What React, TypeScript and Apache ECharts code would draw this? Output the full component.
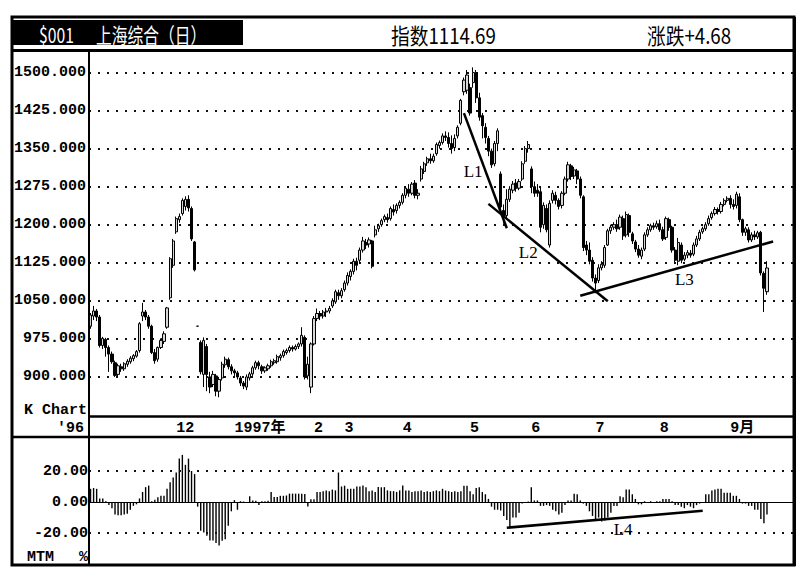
import React, { useEffect, useRef } from 'react';
import * as echarts from 'echarts';

// ---------- data ----------
const slotCount = 230;
const days = Array.from({ length: slotCount }, (_, i) => String(i));

const monthTickIdx = [28, 47, 73, 83, 102, 124, 144, 165, 186, 209];
const monthTickText = ['12', '1997年', '2', '3', '4', '5', '6', '7', '8', '9月'];

const priceTicks = [900, 975, 1050, 1125, 1200, 1275, 1350, 1425, 1500];
const mtmTicks = [-20, 0, 20];

// [open, close, low, high]
const ohlc = [
  [1000, 1022, 995, 1026], [1020, 1030, 1012, 1040], [1030, 1018, 1010, 1034], [1018, 962, 958, 1022], [962, 976, 955, 979],
  [974, 958, 940, 977], [958, 945, 910, 962], [945, 930, 926, 950], [928, 903, 900, 932], [905, 922, 900, 926],
  [920, 916, 910, 926], [916, 926, 912, 929], [925, 931, 920, 935], [930, 937, 926, 941], [936, 942, 931, 945],
  [941, 950, 938, 953], [952, 1005, 948, 1008], [1020, 1028, 1010, 1046], [1028, 1018, 1012, 1032], [1018, 1000, 995, 1022],
  [1000, 948, 945, 1003], [948, 932, 926, 955], [935, 958, 930, 960], [958, 972, 955, 976], [970, 985, 965, 990],
  [998, 1036, 995, 1038], [1056, 1133, 1052, 1136], [1120, 1168, 1115, 1172], [1186, 1212, 1182, 1216], [1210, 1216, 1204, 1222],
  [1222, 1248, 1218, 1252], [1236, 1250, 1228, 1256], [1250, 1233, 1226, 1258], [1232, 1172, 1168, 1236], [1166, 1111, 1108, 1168],
  [1000, 1000, 1000, 1000], [968, 910, 905, 972], [905, 972, 880, 978], [960, 905, 872, 965], [900, 880, 868, 910],
  [885, 905, 880, 912], [902, 872, 862, 906], [872, 895, 860, 900], [898, 925, 893, 930], [924, 935, 918, 940],
  [934, 920, 915, 938], [920, 912, 905, 925], [912, 908, 902, 916], [908, 900, 895, 912], [898, 888, 882, 902],
  [888, 882, 876, 892], [880, 900, 874, 905], [898, 906, 893, 910], [906, 918, 902, 922], [918, 928, 914, 932],
  [928, 922, 915, 932], [920, 912, 906, 924], [912, 918, 908, 921], [916, 922, 912, 926], [922, 930, 918, 934],
  [928, 932, 924, 936], [930, 940, 926, 944], [938, 942, 932, 946], [942, 950, 938, 954], [948, 952, 944, 956],
  [952, 958, 948, 962], [958, 955, 950, 962], [955, 960, 952, 964], [960, 965, 955, 968], [965, 982, 960, 998],
  [978, 900, 895, 982], [902, 925, 895, 940], [880, 965, 868, 968], [965, 1015, 962, 1020], [1015, 1025, 1010, 1035],
  [1025, 1020, 1012, 1030], [1020, 1028, 1015, 1032], [1028, 1030, 1018, 1036], [1030, 1035, 1025, 1040], [1040, 1050, 1036, 1055],
  [1048, 1068, 1044, 1072], [1066, 1060, 1052, 1072], [1060, 1070, 1055, 1075], [1072, 1085, 1068, 1090], [1085, 1100, 1080, 1106],
  [1098, 1108, 1090, 1112], [1108, 1128, 1102, 1133], [1128, 1120, 1110, 1135], [1130, 1150, 1125, 1155], [1150, 1168, 1145, 1176],
  [1165, 1160, 1152, 1172], [1162, 1170, 1155, 1175], [1168, 1118, 1114, 1170], [1180, 1190, 1175, 1198], [1192, 1198, 1186, 1202],
  [1200, 1208, 1196, 1212], [1210, 1216, 1205, 1220], [1214, 1210, 1204, 1222], [1212, 1232, 1208, 1236], [1230, 1225, 1218, 1240],
  [1228, 1238, 1222, 1242], [1238, 1244, 1232, 1248], [1244, 1258, 1240, 1262], [1258, 1272, 1252, 1276], [1270, 1262, 1255, 1280],
  [1262, 1280, 1258, 1284], [1282, 1258, 1252, 1288], [1258, 1262, 1250, 1270], [1290, 1310, 1285, 1316], [1305, 1320, 1300, 1324],
  [1322, 1330, 1316, 1334], [1330, 1326, 1320, 1340], [1326, 1335, 1322, 1340], [1340, 1358, 1336, 1362], [1356, 1362, 1350, 1366],
  [1362, 1375, 1358, 1380], [1375, 1372, 1365, 1384], [1372, 1360, 1352, 1382], [1360, 1350, 1340, 1376], [1352, 1370, 1345, 1378],
  [1375, 1392, 1370, 1396], [1400, 1445, 1396, 1448], [1462, 1485, 1455, 1490], [1465, 1495, 1458, 1505], [1470, 1420, 1415, 1478],
  [1480, 1500, 1470, 1510], [1500, 1450, 1440, 1505], [1450, 1412, 1405, 1460], [1415, 1395, 1370, 1420], [1392, 1372, 1360, 1400],
  [1370, 1345, 1335, 1375], [1345, 1318, 1312, 1350], [1320, 1360, 1315, 1365], [1360, 1385, 1345, 1390], [1300, 1235, 1225, 1305],
  [1228, 1215, 1202, 1240], [1218, 1250, 1210, 1270], [1250, 1270, 1245, 1276], [1268, 1280, 1262, 1286], [1282, 1272, 1265, 1290],
  [1272, 1285, 1268, 1290], [1290, 1320, 1286, 1325], [1325, 1350, 1320, 1355], [1350, 1358, 1342, 1365], [1310, 1275, 1262, 1315],
  [1275, 1262, 1255, 1285], [1268, 1262, 1255, 1280], [1265, 1195, 1185, 1275], [1200, 1238, 1192, 1244], [1232, 1190, 1185, 1240],
  [1160, 1242, 1155, 1248], [1248, 1262, 1242, 1268], [1258, 1248, 1240, 1265], [1248, 1236, 1230, 1252], [1238, 1262, 1232, 1266],
  [1262, 1290, 1258, 1295], [1290, 1318, 1285, 1324], [1316, 1295, 1288, 1320], [1296, 1308, 1290, 1314], [1306, 1290, 1280, 1310],
  [1290, 1258, 1252, 1295], [1255, 1155, 1148, 1258], [1160, 1150, 1140, 1168], [1150, 1128, 1122, 1165], [1130, 1095, 1088, 1136],
  [1095, 1085, 1065, 1102], [1090, 1115, 1085, 1122], [1115, 1122, 1110, 1128], [1120, 1155, 1115, 1160], [1160, 1188, 1158, 1192],
  [1188, 1195, 1182, 1200], [1195, 1200, 1190, 1205], [1200, 1192, 1186, 1210], [1195, 1215, 1190, 1220], [1212, 1178, 1170, 1218],
  [1180, 1220, 1175, 1226], [1218, 1185, 1176, 1222], [1182, 1168, 1162, 1186], [1166, 1152, 1146, 1170], [1152, 1140, 1135, 1160],
  [1138, 1150, 1132, 1155], [1152, 1180, 1148, 1185], [1180, 1190, 1176, 1195], [1190, 1198, 1186, 1202], [1198, 1195, 1190, 1204],
  [1196, 1202, 1192, 1208], [1202, 1190, 1186, 1210], [1190, 1172, 1168, 1196], [1175, 1212, 1170, 1216], [1210, 1195, 1188, 1214],
  [1195, 1150, 1145, 1198], [1150, 1130, 1125, 1156], [1128, 1165, 1120, 1174], [1160, 1130, 1124, 1165], [1132, 1140, 1128, 1146],
  [1140, 1145, 1134, 1150], [1144, 1140, 1135, 1150], [1142, 1160, 1138, 1165], [1160, 1172, 1156, 1178], [1172, 1185, 1168, 1190],
  [1186, 1192, 1182, 1196], [1192, 1200, 1188, 1205], [1202, 1212, 1198, 1218], [1214, 1222, 1210, 1226], [1222, 1230, 1218, 1235],
  [1230, 1226, 1220, 1234], [1226, 1240, 1222, 1245], [1240, 1248, 1236, 1252], [1248, 1252, 1244, 1256], [1252, 1240, 1232, 1258],
  [1240, 1236, 1230, 1250], [1238, 1260, 1232, 1265], [1255, 1210, 1205, 1262], [1210, 1185, 1178, 1212], [1185, 1192, 1178, 1196],
  [1190, 1170, 1165, 1195], [1170, 1180, 1166, 1185], [1180, 1176, 1170, 1188], [1176, 1184, 1172, 1188], [1185, 1105, 1100, 1188],
  [1104, 1075, 1028, 1108], [1068, 1114.69, 1062, 1128],
];

const mtm = [
  8.5, 9, 8.5, 2.3, 2.3, 0.5, -1.9, -4, -8, -8.5,
  -8.5, -8, -7.5, -5, -2.5, -1.5, 2.3, 6.5, 9.6, 10.6,
  0.5, 1.5, 3, 4, 4, 8.5, 12.7, 15.8, 19, 28,
  30.4, 24, 28, 20, 18, -3, -18.5, -19.6, -21.7, -24.8,
  -24.8, -26.5, -28, -25, -24, -15.4, -6, 1.2, -5, 0.5,
  0.3, -0.3, 3.7, 1, 0.8, -1.9, 0.5, 0.5, 0.8, 6.5,
  3.3, 3.3, 4, 4, 4.2, 5.4, 5.4, 5.4, 5.4, 5.4,
  5.2, -2.9, 1.7, 1.7, 6.5, 6.5, 7, 7.5, 7, 8,
  7.5, 19, 10, 10.5, 8.5, 8.5, 8.5, 10, 10, 10.6,
  9.5, 7, 7.5, 6.5, 9.6, 9.5, 9.6, 7.5, 7, 7,
  6.5, 7.5, 10.6, 7.5, 7.5, 6.5, 7, 7, 7.5, 6.5,
  7, 6.5, 7, 7.5, 7, 8.5, 7.4, 7, 6.5, 7,
  6.5, 7, 10.5, 10.5, 7, 5, 9, 9.5, 6.5, 5,
  2, -3, -5, -5, -5.5, -9, -11.6, -16, -10, -10,
  -7, -1, -0.5, 0.3, 9.5, 1, 1, -2.5, -2.5, -2,
  -2.5, -5, -6, -8, -7, -2, 1, 1, 5.3, 5,
  1, -1, -2.5, -6, -9, -11.6, -10, -12.6, -12, -10,
  -7, -2.5, -2.5, 3.7, 3, 8, 8, 5, 2, -1.5,
  -1.5, 0.5, -0.5, 0.5, -0.5, 0.5, 0.5, 2, 2, 2,
  0.5, -2, -2, -3, -4, -2, -3, -4, -2, -1,
  -0.5, 5, 5, 7.5, 8, 8.5, 8.5, 6, 6, 6,
  4, 4, 2, -1, -1, -2.5, -2.5, -5, -5, -11,
  -13.7, -8,
];

// trend lines: [dayIndex, value] pairs
const trendL1 = [[122, 1420], [136, 1193]];
const trendL2 = [[130, 1241], [169, 1049]];
const trendL3 = [[160, 1060], [223, 1167]];
const trendL4 = [[136, -16.6], [200, -5.7]];
const priceLineNames = ['L1', 'L2', 'L3'];
const priceLineLabelAt = [[125, 1304], [143, 1146], [194, 1093]];
const mtmLineLabelAt = [174, -18];

export default function App() {
  const ref = useRef<HTMLDivElement>(null);

  useEffect(() => {
    const chart = echarts.init(ref.current!, null, { renderer: 'svg' });
    const mono = "'Liberation Mono', 'Noto Sans CJK SC', monospace";
    const cjk = "'Noto Sans CJK SC', sans-serif";
    const serif = "'Liberation Serif', 'DejaVu Serif', serif";
    const labelMap: Record<number, string> = {};
    monthTickIdx.forEach((idx, k) => { labelMap[idx] = monthTickText[k]; });
    const dotted = [2, 7];
    const axisFont = { fontFamily: mono, fontWeight: 'bold', fontSize: 15, color: '#000' };

    const seg = (a: number[][]) => [{ coord: a[0] }, { coord: a[1] }];

    chart.setOption({
      animation: false,
      backgroundColor: '#fff',
      grid: [
        { left: 89, top: 50, width: 704, height: 365 },
        { left: 89, top: 437, width: 704, height: 127 },
      ],
      xAxis: [
        {
          type: 'category', gridIndex: 0, data: days, boundaryGap: true,
          axisLine: { show: false }, axisTick: { show: false }, splitLine: { show: false },
          axisLabel: {
            ...axisFont,
            interval: (i: number) => labelMap[i] !== undefined,
            formatter: (_v: string, i: number) => labelMap[i] ?? '',
            align: 'left', margin: 6,
          },
        },
        {
          type: 'category', gridIndex: 1, data: days, boundaryGap: true,
          axisLine: { show: false }, axisTick: { show: false }, axisLabel: { show: false }, splitLine: { show: false },
        },
      ],
      yAxis: [
        {
          type: 'value', gridIndex: 0, min: 825, max: 1544.3, interval: 75,
          axisLine: { show: false }, axisTick: { show: false },
          axisLabel: {
            ...axisFont, margin: 3,
            formatter: (v: number) => (priceTicks.includes(v) ? v.toFixed(3) : ''),
          },
          splitLine: {
            show: true, showMinLine: false, showMaxLine: false,
            lineStyle: { type: dotted, color: '#111', width: 2 },
          },
        },
        {
          type: 'value', gridIndex: 1, min: -40, max: 41.94, interval: 20,
          axisLine: { show: false }, axisTick: { show: false },
          axisLabel: {
            ...axisFont, margin: 1,
            formatter: (v: number) => (mtmTicks.includes(v) ? v.toFixed(2) : ''),
          },
          splitLine: { show: false },
        },
      ],
      series: [
        {
          type: 'candlestick', xAxisIndex: 0, yAxisIndex: 0, data: ohlc, barWidth: 2.7,
          itemStyle: { color: '#d8d8d8', color0: '#000', borderColor: '#000', borderColor0: '#000', borderWidth: 1 },
          markLine: {
            silent: true, symbol: ['none', 'none'], label: { show: false },
            lineStyle: { color: '#000', width: 2.5, type: 'solid' },
            data: [seg(trendL1), seg(trendL2), seg(trendL3)],
          },
          markPoint: {
            silent: true, symbol: 'rect', symbolSize: 1, itemStyle: { color: 'rgba(0,0,0,0)' },
            label: { show: true, position: 'inside', formatter: '{b}', color: '#000', fontFamily: serif, fontSize: 17 },
            data: priceLineNames.map((n, k) => ({ name: n, coord: priceLineLabelAt[k] })),
          },
        },
        {
          type: 'bar', xAxisIndex: 1, yAxisIndex: 1, data: mtm, barWidth: 1.4,
          itemStyle: { color: '#000' },
          markLine: {
            silent: true, symbol: ['none', 'none'], label: { show: false },
            lineStyle: { color: '#000', width: 2.5, type: 'solid' },
            data: [
              { yAxis: 20, lineStyle: { type: dotted, width: 2, color: '#111' } },
              { yAxis: -20, lineStyle: { type: dotted, width: 2, color: '#111' } },
              { yAxis: 0, lineStyle: { type: 'solid', width: 1, color: '#000' } },
              seg(trendL4),
            ],
          },
          markPoint: {
            silent: true, symbol: 'rect', symbolSize: 1, itemStyle: { color: 'rgba(0,0,0,0)' },
            label: { show: true, position: 'inside', formatter: '{b}', color: '#000', fontFamily: serif, fontSize: 17 },
            data: [{ name: 'L4', coord: mtmLineLabelAt }],
          },
        },
      ],
      graphic: [
        { type: 'rect', z: 10, shape: { x: 12, y: 17, width: 782, height: 548 }, style: { fill: 'none', stroke: '#000', lineWidth: 3 } },
        { type: 'line', z: 10, shape: { x1: 795, y1: 17, x2: 795, y2: 566 }, style: { stroke: '#000', lineWidth: 2 } },
        { type: 'rect', z: 10, shape: { x: 12, y: 20, width: 231, height: 25 }, style: { fill: '#000' } },
        { type: 'line', z: 10, shape: { x1: 12, y1: 50.5, x2: 794, y2: 50.5 }, style: { stroke: '#000', lineWidth: 3 } },
        { type: 'line', z: 10, shape: { x1: 89, y1: 50, x2: 89, y2: 565 }, style: { stroke: '#000', lineWidth: 2 } },
        { type: 'line', z: 10, shape: { x1: 89, y1: 416.5, x2: 794, y2: 416.5 }, style: { stroke: '#000', lineWidth: 2.5 } },
        { type: 'line', z: 10, shape: { x1: 12, y1: 437, x2: 794, y2: 437 }, style: { stroke: '#000', lineWidth: 2.5 } },
        { type: 'text', z: 11, x: 39, y: 33, scaleX: 0.75, style: { text: '$001', fill: '#fff', font: `21px ${cjk}`, textVerticalAlign: 'middle' } },
        { type: 'text', z: 11, x: 96, y: 33, scaleX: 0.75, style: { text: '上海综合（日）', fill: '#fff', font: `21px ${cjk}`, textVerticalAlign: 'middle' } },
        { type: 'text', z: 11, x: 391, y: 34, scaleX: 0.85, style: { text: '指数1114.69', fill: '#000', font: `22px ${cjk}`, textVerticalAlign: 'middle' } },
        { type: 'text', z: 11, x: 647, y: 34, scaleX: 0.85, style: { text: '涨跌+4.68', fill: '#000', font: `22px ${cjk}`, textVerticalAlign: 'middle' } },
        { type: 'text', z: 11, x: 87, y: 410, style: { text: 'K Chart', fill: '#000', font: `bold 15px ${mono}`, textAlign: 'right', textVerticalAlign: 'middle' } },
        { type: 'text', z: 11, x: 84, y: 428, style: { text: "'96", fill: '#000', font: `bold 15px ${mono}`, textAlign: 'right', textVerticalAlign: 'middle' } },
        { type: 'text', z: 11, x: 27, y: 557, style: { text: 'MTM', fill: '#000', font: `bold 15px ${mono}`, textAlign: 'left', textVerticalAlign: 'middle' } },
        { type: 'text', z: 11, x: 88, y: 557, style: { text: '%', fill: '#000', font: `bold 15px ${mono}`, textAlign: 'right', textVerticalAlign: 'middle' } },
      ],
    });
    return () => chart.dispose();
  }, []);

  return <div ref={ref} style={{ position: 'absolute', left: 0, top: 0, width: 808, height: 580 }} />;
}
